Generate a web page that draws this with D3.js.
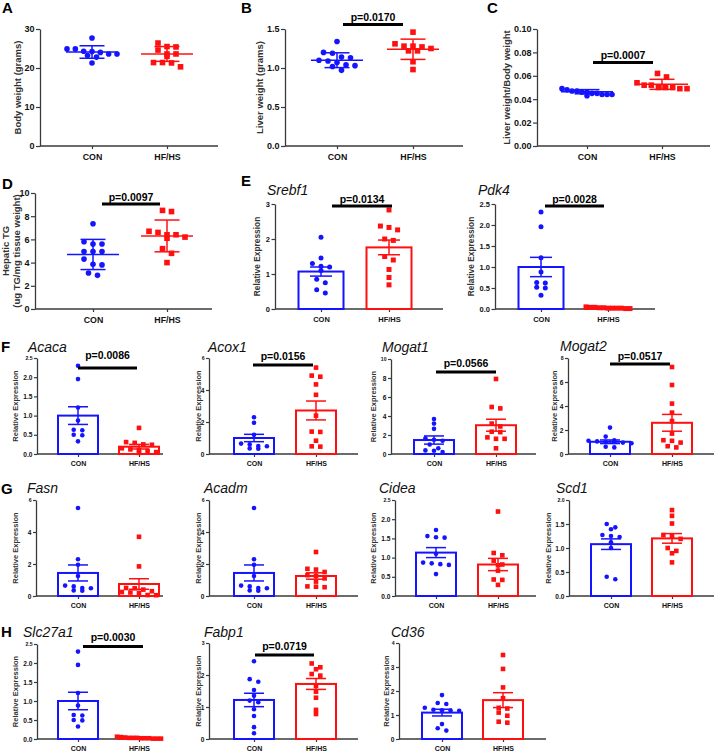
<!DOCTYPE html>
<html><head><meta charset="utf-8">
<script src="https://cdn.jsdelivr.net/npm/d3@7"></script>
<style>
body{margin:0;background:#fff;}
svg{display:block;font-family:"Liberation Sans",Arial,Helvetica,sans-serif;}
</style></head><body>
<svg id="fig" width="716" height="752"></svg>
<script>
const groups = ["CON", "HF/HS"];

// ---- Panel A: body weight (mean ± SD)
const bodyCON = [27.7, 24.9, 24.9, 24.3, 24.2, 24.0, 23.6, 23.6, 23.2, 22.8, 21.3];
const bodyHF = [26.4, 25.5, 25.4, 24.6, 23.6, 23.6, 23.0, 21.4, 21.4, 21.3, 20.3];
const bodyMean = [24.1, 23.6];
const bodySD = [1.6, 1.9];
const bodyTicks = [0, 10, 20, 30];
// ---- Panel B: liver weight
const liverCON = [1.34, 1.20, 1.19, 1.14, 1.13, 1.10, 1.09, 1.07, 1.04, 1.03, 1.02, 0.97];
const liverHF = [1.46, 1.31, 1.28, 1.28, 1.27, 1.25, 1.22, 1.22, 1.08, 0.98];
const liverMean = [1.10, 1.24];
const liverSD = [0.095, 0.13];
const liverTicks = [0, 0.5, 1.0, 1.5];
// ---- Panel C: liver/body weight
const ratioCON = [0.049, 0.048, 0.047, 0.047, 0.046, 0.046, 0.045, 0.045, 0.044, 0.044, 0.044, 0.043];
const ratioHF = [0.062, 0.059, 0.054, 0.052, 0.052, 0.050, 0.050, 0.049, 0.049, 0.050];
const ratioMean = [0.0464, 0.0527];
const ratioSD = [0.0018, 0.0043];
const ratioTicks = [0, 0.02, 0.04, 0.06, 0.08, 0.10];
// ---- Panel D: hepatic TG
const tgCON = [7.35, 5.8, 5.6, 5.6, 4.95, 4.95, 4.95, 4.3, 3.85, 3.8, 3.1, 2.9];
const tgHF = [8.5, 8.4, 6.7, 6.6, 6.4, 6.4, 6.2, 6.1, 5.2, 4.8, 4.0];
const tgMean = [4.7, 6.3];
const tgSD = [1.3, 1.37];
const tgTicks = [0, 2, 4, 6, 8, 10];
// ---- Gene expression (mean ± SEM)
const srebf1CON = [2.05, 1.46, 1.30, 1.22, 1.20, 1.10, 0.85, 0.75, 0.55, 0.46];
const srebf1HF = [2.83, 2.37, 2.33, 2.26, 2.0, 1.96, 1.5, 1.4, 1.13, 0.9, 0.69];
const srebf1Mean = [1.07, 1.76], srebf1SEM = [0.13, 0.21];
const pdk4CON = [2.31, 1.96, 1.22, 0.88, 0.63, 0.62, 0.52, 0.50, 0.33];
const pdk4HF = [0.05, 0.04, 0.04, 0.03, 0.03, 0.02, 0.02, 0.02, 0.02, 0.01, 0.01];
const pdk4Mean = [1.0, 0.03], pdk4SEM = [0.23, 0.004];
const acacaCON = [2.3, 1.95, 1.21, 0.87, 0.63, 0.62, 0.50, 0.49, 0.33];
const acacaHF = [0.68, 0.31, 0.29, 0.25, 0.24, 0.15, 0.12, 0.10, 0.08, 0.05, 0.03];
const acacaMean = [1.0, 0.19], acacaSEM = [0.23, 0.06];
const acox1CON = [2.3, 1.95, 1.2, 0.65, 0.6, 0.5, 0.48, 0.35, 0.33];
const acox1HF = [5.4, 4.9, 4.83, 4.35, 3.7, 2.4, 1.4, 1.38, 0.83, 0.48, 0.46];
const acox1Mean = [1.0, 2.72], acox1SEM = [0.23, 0.59];
const mogat1CON = [3.68, 3.2, 2.65, 1.65, 1.5, 1.4, 1.0, 0.6, 0.38, 0.35, 0.2];
const mogat1HF = [7.9, 4.95, 4.8, 3.2, 2.9, 2.35, 2.3, 1.75, 1.6, 1.6, 0.6];
const mogat1Mean = [1.47, 3.03], mogat1SEM = [0.43, 0.63];
const mogat2CON = [2.2, 1.45, 1.15, 1.1, 1.05, 1.0, 1.0, 0.95, 0.9, 0.6, 0.55];
const mogat2HF = [7.25, 5.75, 4.2, 3.45, 2.75, 1.7, 1.15, 1.1, 0.95, 0.65, 0.55];
const mogat2Mean = [1.02, 2.6], mogat2SEM = [0.15, 0.7];
const fasnCON = [5.5, 2.3, 1.95, 1.25, 0.65, 0.6, 0.5, 0.48, 0.35, 0.33];
const fasnHF = [3.7, 1.85, 0.5, 0.48, 0.4, 0.3, 0.25, 0.22, 0.2, 0.06, 0.05];
const fasnMean = [1.44, 0.75], fasnSEM = [0.5, 0.33];
const acadmCON = [5.5, 2.3, 1.95, 1.25, 0.65, 0.6, 0.5, 0.48, 0.35, 0.33];
const acadmHF = [2.75, 1.7, 1.65, 1.5, 1.3, 1.25, 1.1, 0.9, 0.6, 0.58, 0.55];
const acadmMean = [1.44, 1.25], acadmSEM = [0.5, 0.2];
const cideaCON = [1.72, 1.56, 1.53, 1.52, 1.1, 0.87, 0.85, 0.83, 0.81, 0.57];
const cideaHF = [2.2, 1.12, 1.06, 0.92, 0.82, 0.8, 0.66, 0.43, 0.42, 0.29];
const cideaMean = [1.13, 0.82], cideaSEM = [0.13, 0.16];
const scd1CON = [1.5, 1.43, 1.39, 1.27, 1.25, 1.23, 1.12, 1.0, 0.4, 0.35];
const scd1HF = [1.79, 1.67, 1.51, 1.27, 1.25, 1.19, 1.0, 0.94, 0.89, 0.7];
const scd1Mean = [1.08, 1.2], scd1SEM = [0.11, 0.1];
const slcCON = [2.3, 1.95, 1.21, 0.88, 0.63, 0.62, 0.50, 0.49, 0.33];
const slcHF = [0.06, 0.05, 0.04, 0.03, 0.03, 0.02, 0.02, 0.01, 0.01, 0.01, 0.02, 0.03];
const slcMean = [1.0, 0.025], slcSEM = [0.23, 0.005];
const fabp1CON = [2.43, 1.87, 1.79, 1.53, 1.35, 1.2, 1.15, 0.93, 0.72, 0.37, 0.18];
const fabp1HF = [2.36, 2.24, 2.18, 2.03, 1.98, 1.66, 1.48, 1.29, 0.91, 0.78];
const fabp1Mean = [1.22, 1.72], fabp1SEM = [0.21, 0.17];
const cd36CON = [1.83, 1.5, 1.46, 1.3, 1.22, 1.2, 1.19, 1.18, 0.62, 0.45, 0.35];
const cd36HF = [3.5, 2.92, 2.15, 1.7, 1.3, 1.27, 1.1, 0.97, 0.72, 0.68];
const cd36Mean = [1.1, 1.62], cd36SEM = [0.14, 0.31];

const ticks25 = [0, 0.5, 1.0, 1.5, 2.0, 2.5];
const ticks3 = [0, 1, 2, 3];
const ticks4 = [0, 1, 2, 3, 4];
const ticks6 = [0, 2, 4, 6];
const ticks8 = [0, 2, 4, 6, 8];
const ticks10 = [0, 2, 4, 6, 8, 10];
const ticks20 = [0, 0.5, 1.0, 1.5, 2.0];

const pValues = {B: "p=0.0170", C: "p=0.0007", D: "p=0.0097", srebf1: "p=0.0134", pdk4: "p=0.0028",
  acaca: "p=0.0086", acox1: "p=0.0156", mogat1: "p=0.0566", mogat2: "p=0.0517", slc: "p=0.0030", fabp1: "p=0.0719"};

// ---- style presets (layout only)
const BLUE = "#1414ff", RED = "#ff1010", AXIS = "#3a3a3a";
const SIZES = {
  L: {r: 2.8, sq: 5.6, spacing: 9, binH: 6, maxSpan: 50, tickFont: 9, tickLen: 4, catFont: 8.8, catDy: 13.5, meanW: 26, capW: 12.5, ylabFont: 9.5},
  M: {r: 2.5, sq: 5, spacing: 8.6, binH: 4, maxSpan: 44, tickFont: 7.5, tickLen: 3.5, catFont: 7.5, catDy: 13, barW: 45, capW: 11, ylabFont: 8.4},
  S: {r: 2.3, sq: 4.6, spacing: 8.6, binH: 4, maxSpan: 44, tickFont: 6.6, tickLen: 3, catFont: 7, catDy: 12, barW: 40, capW: 10, ylabFont: 7.5, smallTop: true}
};
const RE = ["Relative Expression"];

const panels = [
  {type: "dot", s: "L", con: bodyCON, hf: bodyHF, mean: bodyMean, err: bodySD, domain: [0, 30], ticks: bodyTicks, fmt: "d",
   ax: 40, xEnd: 218, yTop: 29, yBot: 146, catX: [92, 167], ylab: ["Body weight (grams)"], ylabX: [17.5], letter: ["A", 2, 13]},
  {type: "dot", s: "L", con: liverCON, hf: liverHF, mean: liverMean, err: liverSD, domain: [0, 1.5], ticks: liverTicks, fmt: ".1f",
   ax: 285, xEnd: 463, yTop: 29, yBot: 146, catX: [337, 413], ylab: ["Liver weight (grams)"], ylabX: [260], letter: ["B", 241, 13],
   p: {t: pValues.B, x1: 343, x2: 403, y: 24.5, ty: 21}},
  {type: "dot", s: "L", con: ratioCON, hf: ratioHF, mean: ratioMean, err: ratioSD, domain: [0, 0.1], ticks: ratioTicks, fmt: ".2f",
   ax: 537, xEnd: 710, yTop: 29, yBot: 146, catX: [587, 662], ylab: ["Liver weight/Body weight"], ylabX: [507], letter: ["C", 487, 13],
   p: {t: pValues.C, x1: 593, x2: 653, y: 62.5, ty: 58.5}},
  {type: "dot", s: "L", con: tgCON, hf: tgHF, mean: tgMean, err: tgSD, domain: [0, 10], ticks: tgTicks, fmt: "d",
   ax: 35, xEnd: 212, yTop: 193, yBot: 309, catX: [93, 167], ylab: ["Hepatic TG", "(ug TG/mg tissue weight)"], ylabX: [6, 16.5], letter: ["D", 2, 189],
   p: {t: pValues.D, x1: 102, x2: 160, y: 204, ty: 200.5}},
  {type: "bar", s: "M", con: srebf1CON, hf: srebf1HF, mean: srebf1Mean, err: srebf1SEM, domain: [0, 3], ticks: ticks3, fmt: "d",
   ax: 275, xEnd: 443, yTop: 204, yBot: 309, catX: [321, 389], ylab: RE, ylabX: [257.5], letter: ["E", 241, 186], title: ["Srebf1", 267, 195],
   p: {t: pValues.srebf1, x1: 332, x2: 392, y: 206, ty: 203}},
  {type: "bar", s: "M", con: pdk4CON, hf: pdk4HF, mean: pdk4Mean, err: pdk4SEM, domain: [0, 2.5], ticks: ticks25, fmt: ".1f",
   ax: 495, xEnd: 655, yTop: 204, yBot: 309, catX: [541, 608], ylab: RE, ylabX: [471], title: ["Pdk4", 478, 195],
   p: {t: pValues.pdk4, x1: 545, x2: 604, y: 206, ty: 203}},
  {type: "bar", s: "S", con: acacaCON, hf: acacaHF, mean: acacaMean, err: acacaSEM, domain: [0, 2.5], ticks: ticks25, fmt: ".1f",
   ax: 37, xEnd: 163, yTop: 358, yBot: 454, catX: [78, 139], ylab: RE, ylabX: [15.5], letter: ["F", 1, 352], title: ["Acaca", 28, 352],
   p: {t: pValues.acaca, x1: 78, x2: 137, y: 368, ty: 359}},
  {type: "bar", s: "S", con: acox1CON, hf: acox1HF, mean: acox1Mean, err: acox1SEM, domain: [0, 6], ticks: ticks6, fmt: "d",
   ax: 209, xEnd: 358, yTop: 358, yBot: 454, catX: [254, 316], ylab: RE, ylabX: [198], title: ["Acox1", 208, 352],
   p: {t: pValues.acox1, x1: 253, x2: 313, y: 365, ty: 360}},
  {type: "bar", s: "S", con: mogat1CON, hf: mogat1HF, mean: mogat1Mean, err: mogat1SEM, domain: [0, 10], ticks: ticks10, fmt: "d",
   ax: 391, xEnd: 536, yTop: 359, yBot: 454, catX: [434, 496], ylab: RE, ylabX: [373], title: ["Mogat1", 382, 352],
   p: {t: pValues.mogat1, x1: 436, x2: 496, y: 372, ty: 367}},
  {type: "bar", s: "S", con: mogat2CON, hf: mogat2HF, mean: mogat2Mean, err: mogat2SEM, domain: [0, 8], ticks: ticks8, fmt: "d",
   ax: 568, xEnd: 714, yTop: 358, yBot: 454, catX: [610, 672], ylab: RE, ylabX: [554], title: ["Mogat2", 560, 351],
   p: {t: pValues.mogat2, x1: 610, x2: 670, y: 364, ty: 360}},
  {type: "bar", s: "S", con: fasnCON, hf: fasnHF, mean: fasnMean, err: fasnSEM, domain: [0, 6], ticks: ticks6, fmt: "d",
   ax: 36, xEnd: 163, yTop: 500, yBot: 596, catX: [78, 139], ylab: RE, ylabX: [15.5], letter: ["G", 1, 494], title: ["Fasn", 27, 493]},
  {type: "bar", s: "S", con: acadmCON, hf: acadmHF, mean: acadmMean, err: acadmSEM, domain: [0, 6], ticks: ticks6, fmt: "d",
   ax: 209, xEnd: 358, yTop: 500, yBot: 596, catX: [254, 316], ylab: RE, ylabX: [198], title: ["Acadm", 204, 493]},
  {type: "bar", s: "S", con: cideaCON, hf: cideaHF, mean: cideaMean, err: cideaSEM, domain: [0, 2.5], ticks: ticks25, fmt: ".1f",
   ax: 395, xEnd: 536, yTop: 500, yBot: 596, catX: [436, 498], ylab: RE, ylabX: [373], title: ["Cidea", 379, 493]},
  {type: "bar", s: "S", con: scd1CON, hf: scd1HF, mean: scd1Mean, err: scd1SEM, domain: [0, 2], ticks: ticks20, fmt: ".1f",
   ax: 569, xEnd: 714, yTop: 500, yBot: 596, catX: [611, 672], ylab: RE, ylabX: [548], title: ["Scd1", 556, 493]},
  {type: "bar", s: "S", con: slcCON, hf: slcHF, mean: slcMean, err: slcSEM, domain: [0, 2.5], ticks: ticks25, fmt: ".1f",
   ax: 37, xEnd: 163, yTop: 644, yBot: 739, catX: [78, 139], ylab: RE, ylabX: [15.5], letter: ["H", 1, 637], title: ["Slc27a1", 23, 637],
   p: {t: pValues.slc, x1: 83, x2: 143, y: 646.5, ty: 641}},
  {type: "bar", s: "S", con: fabp1CON, hf: fabp1HF, mean: fabp1Mean, err: fabp1SEM, domain: [0, 3], ticks: ticks3, fmt: "d",
   ax: 209, xEnd: 358, yTop: 643, yBot: 739, catX: [254, 316], ylab: RE, ylabX: [198], title: ["Fabp1", 204, 637],
   p: {t: pValues.fabp1, x1: 255, x2: 314, y: 655, ty: 650}},
  {type: "bar", s: "S", con: cd36CON, hf: cd36HF, mean: cd36Mean, err: cd36SEM, domain: [0, 4], ticks: ticks4, fmt: "d",
   ax: 399, xEnd: 546, yTop: 643, yBot: 739, catX: [442, 503], ylab: RE, ylabX: [386], title: ["Cd36", 391, 637]}
];

const svg = d3.select("#fig");

function swarm(vals, cx, y, S) {
  const pts = vals.map(v => ({v, py: y(v)})).sort((a, b) => a.py - b.py);
  const rows = [];
  let cur = null;
  pts.forEach(p => {
    if (!cur || p.py - cur[0].py > S.binH) { cur = [p]; rows.push(cur); } else cur.push(p);
  });
  rows.forEach(r => {
    const n = r.length;
    const s = n > 1 ? Math.min(S.spacing, S.maxSpan / (n - 1)) : 0;
    r.forEach((p, i) => { p.px = cx + (i - (n - 1) / 2) * s; });
  });
  return pts;
}

function drawPanel(P) {
  const S = SIZES[P.s];
  const g = svg.append("g");
  const y = d3.scaleLinear().domain(P.domain).range([P.yBot, P.yTop]);
  const x = d3.scalePoint().domain(groups).range(P.catX);
  const colors = [BLUE, RED];

  // y axis
  const yg = g.append("g").attr("transform", `translate(${P.ax},0)`)
    .call(d3.axisLeft(y).tickValues(P.ticks).tickFormat(d3.format(P.fmt)).tickSize(S.tickLen).tickSizeOuter(0).tickPadding(1.5));
  yg.select(".domain").attr("stroke", AXIS).attr("stroke-width", 1.3);
  yg.selectAll(".tick line").attr("stroke", AXIS).attr("stroke-width", 1.2);
  yg.selectAll(".tick text").attr("font-size", S.tickFont).attr("font-weight", "bold").attr("fill", "#111")
    .attr("font-family", "Liberation Sans, Arial, sans-serif");
  if (S.smallTop) {
    const top = P.ticks[P.ticks.length - 1];
    yg.selectAll(".tick text").filter(d => d === top).attr("font-size", S.tickFont * 0.78);
  }

  // x axis
  g.append("line").attr("x1", P.ax).attr("x2", P.xEnd).attr("y1", P.yBot).attr("y2", P.yBot)
    .attr("stroke", AXIS).attr("stroke-width", 1.3);
  const xg = g.append("g").attr("transform", `translate(0,${P.yBot})`)
    .call(d3.axisBottom(x).tickSize(3).tickSizeOuter(0));
  xg.select(".domain").remove();
  xg.selectAll(".tick line").attr("stroke", AXIS).attr("stroke-width", 1.2);
  xg.selectAll(".tick text").attr("y", S.catDy).attr("dy", 0).attr("font-size", S.catFont)
    .attr("font-weight", "bold").attr("fill", "#111").attr("font-family", "Liberation Sans, Arial, sans-serif");

  // bars
  if (P.type === "bar") {
    groups.forEach((gr, i) => {
      g.append("rect").attr("x", x(gr) - S.barW / 2).attr("width", S.barW)
        .attr("y", y(P.mean[i])).attr("height", Math.max(0, P.yBot - y(P.mean[i])))
        .attr("fill", "none").attr("stroke", colors[i]).attr("stroke-width", 2);
    });
  }

  // points
  [P.con, P.hf].forEach((vals, i) => {
    const pts = swarm(vals, x(groups[i]), y, S);
    if (i === 0) {
      g.selectAll(null).data(pts).join("circle").attr("cx", d => d.px).attr("cy", d => d.py).attr("r", S.r).attr("fill", BLUE);
    } else {
      g.selectAll(null).data(pts).join("rect").attr("x", d => d.px - S.sq / 2).attr("y", d => d.py - S.sq / 2)
        .attr("width", S.sq).attr("height", S.sq).attr("fill", RED);
    }
  });

  // error bars
  groups.forEach((gr, i) => {
    const cx = x(gr), m = P.mean[i], e = P.err[i];
    const eg = g.append("g").attr("stroke", colors[i]).attr("stroke-width", 1.5);
    if (P.type === "dot") {
      eg.append("line").attr("x1", cx - S.meanW).attr("x2", cx + S.meanW).attr("y1", y(m)).attr("y2", y(m));
    }
    eg.append("line").attr("x1", cx).attr("x2", cx).attr("y1", y(m - e)).attr("y2", y(m + e));
    [m - e, m + e].forEach(v => {
      eg.append("line").attr("x1", cx - S.capW).attr("x2", cx + S.capW).attr("y1", y(v)).attr("y2", y(v));
    });
  });

  // y label
  const ymid = (P.yTop + P.yBot) / 2;
  P.ylab.forEach((t, i) => {
    g.append("text").attr("transform", `translate(${P.ylabX[i]},${ymid}) rotate(-90)`)
      .attr("text-anchor", "middle").attr("dy", "0.35em").attr("font-size", S.ylabFont)
      .attr("font-weight", "bold").attr("fill", "#333").text(t);
  });

  // title & letter
  if (P.title) {
    g.append("text").attr("x", P.title[1]).attr("y", P.title[2]).attr("font-size", 14)
      .attr("font-style", "italic").attr("fill", "#111").text(P.title[0]);
  }
  if (P.letter) {
    g.append("text").attr("x", P.letter[1]).attr("y", P.letter[2]).attr("font-size", 15)
      .attr("font-weight", "bold").attr("fill", "#000").text(P.letter[0]);
  }
  // p value
  if (P.p) {
    g.append("line").attr("x1", P.p.x1).attr("x2", P.p.x2).attr("y1", P.p.y).attr("y2", P.p.y)
      .attr("stroke", "#000").attr("stroke-width", 3);
    g.append("text").attr("x", (P.p.x1 + P.p.x2) / 2).attr("y", P.p.ty).attr("text-anchor", "middle")
      .attr("font-size", 10.5).attr("font-weight", "bold").attr("fill", "#000").text(P.p.t);
  }
}

panels.forEach(drawPanel);
</script>
</body></html>
